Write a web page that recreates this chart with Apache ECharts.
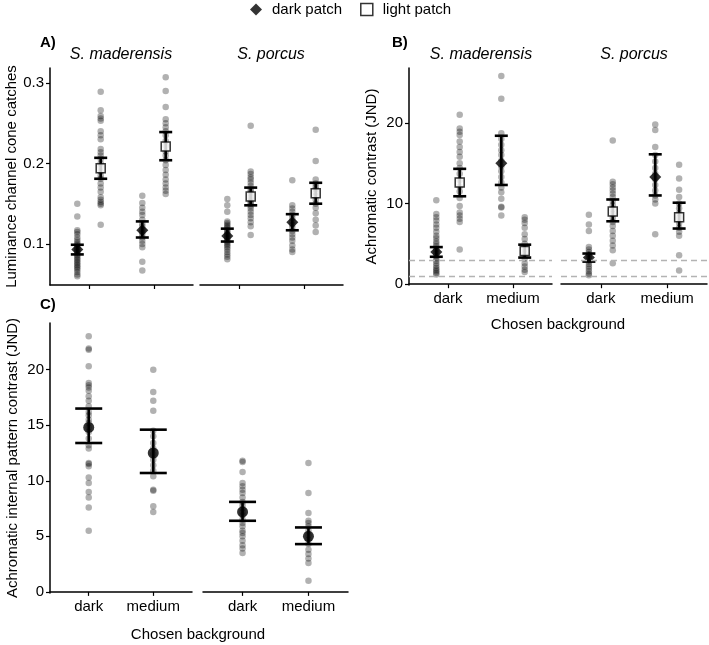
<!DOCTYPE html>
<html>
<head>
<meta charset="utf-8">
<script src="https://cdn.jsdelivr.net/npm/echarts@6/dist/echarts.min.js"></script>
<style>
  html, body { margin: 0; padding: 0; background: #fff; }
  #chart { width: 709px; height: 645px; }
</style>
</head>
<body>
<div id="chart"></div>
<script>
// categories
const bgLevels = ['dark', 'medium']
const speciesNames = ['S. maderensis', 'S. porcus']
const patchNames = ['dark patch', 'light patch']

// A) luminance channel cone catches, individual fish
const lumMadDarkDP = [0.150, 0.134, 0.117, 0.115, 0.112, 0.108, 0.105, 0.102, 0.100, 0.098, 0.096, 0.094, 0.092, 0.090, 0.088, 0.086, 0.084, 0.082, 0.080, 0.078, 0.076, 0.074, 0.072, 0.070, 0.068, 0.065, 0.062, 0.060]
const lumMadDarkLP = [0.289, 0.266, 0.259, 0.256, 0.253, 0.240, 0.235, 0.230, 0.218, 0.214, 0.210, 0.206, 0.200, 0.196, 0.190, 0.185, 0.181, 0.175, 0.170, 0.165, 0.158, 0.155, 0.152, 0.150, 0.148, 0.124]
const lumMadMedDP = [0.160, 0.151, 0.145, 0.140, 0.136, 0.130, 0.125, 0.122, 0.118, 0.115, 0.112, 0.108, 0.104, 0.100, 0.096, 0.078, 0.067]
const lumMadMedLP = [0.307, 0.290, 0.270, 0.255, 0.250, 0.245, 0.240, 0.235, 0.228, 0.222, 0.215, 0.210, 0.204, 0.198, 0.192, 0.186, 0.180, 0.175, 0.170, 0.166, 0.162]
const lumPorDarkDP = [0.156, 0.148, 0.140, 0.128, 0.126, 0.124, 0.122, 0.120, 0.118, 0.116, 0.114, 0.112, 0.110, 0.108, 0.106, 0.104, 0.102, 0.100, 0.098, 0.096, 0.093, 0.090, 0.087, 0.084, 0.081]
const lumPorDarkLP = [0.247, 0.190, 0.187, 0.183, 0.180, 0.176, 0.172, 0.168, 0.165, 0.162, 0.158, 0.155, 0.152, 0.150, 0.147, 0.144, 0.140, 0.136, 0.132, 0.127, 0.122, 0.111]
const lumPorMedDP = [0.179, 0.148, 0.144, 0.140, 0.136, 0.132, 0.128, 0.124, 0.120, 0.116, 0.112, 0.108, 0.104, 0.098, 0.093, 0.090]
const lumPorMedLP = [0.242, 0.203, 0.180, 0.175, 0.171, 0.168, 0.164, 0.160, 0.155, 0.150, 0.145, 0.138, 0.130, 0.123, 0.115]
// [mean, lower, upper] for darkBg-darkPatch, darkBg-lightPatch, mediumBg-darkPatch, mediumBg-lightPatch
const lumMadStats = [[0.093, 0.087, 0.099], [0.194, 0.181, 0.207], [0.117, 0.108, 0.128], [0.221, 0.204, 0.239]]
const lumPorStats = [[0.110, 0.103, 0.119], [0.159, 0.148, 0.170], [0.127, 0.117, 0.137], [0.163, 0.150, 0.176]]

// B) achromatic contrast (JND)
const achMadDarkDP = [10.4, 8.7, 8.3, 7.9, 7.4, 7.0, 6.5, 6.0, 5.7, 5.3, 5.0, 4.7, 4.4, 4.1, 3.8, 3.5, 3.2, 2.9, 2.6, 2.3, 2.0, 1.8, 1.6, 1.4, 1.2]
const achMadDarkLP = [21.0, 19.3, 18.9, 18.5, 17.7, 17.0, 16.4, 15.8, 15.0, 14.4, 13.7, 12.9, 12.1, 11.5, 10.7, 9.7, 8.9, 8.5, 8.1, 7.7, 4.3]
const achMadMedDP = [25.8, 23.0, 18.7, 18.0, 17.3, 16.6, 16.0, 15.3, 14.6, 14.0, 13.3, 12.6, 12.0, 11.4, 10.6, 9.6, 9.5, 8.5]
const achMadMedLP = [8.3, 8.0, 7.6, 7.0, 6.2, 5.6, 5.0, 4.4, 3.8, 3.2, 2.6, 2.2, 1.8, 1.5]
const achPorDarkDP = [8.6, 7.4, 6.6, 4.6, 4.3, 4.0, 3.7, 3.4, 3.1, 2.8, 2.5, 2.2, 1.9, 1.6, 1.3, 1.1]
const achPorDarkLP = [17.8, 12.7, 12.4, 12.0, 11.6, 11.2, 10.8, 10.3, 9.8, 9.3, 8.7, 8.2, 7.7, 7.2, 6.6, 6.0, 5.4, 4.8, 4.2, 2.6]
const achPorMedDP = [19.8, 19.1, 17.0, 16.0, 15.2, 14.4, 13.7, 13.0, 12.3, 11.6, 11.0, 10.5, 10.0, 6.2]
const achPorMedLP = [14.8, 13.1, 11.7, 10.8, 10.0, 9.4, 8.8, 8.2, 7.6, 7.0, 6.5, 6.0, 3.6, 1.7]
const achMadStats = [[4.0, 3.4, 4.6], [12.6, 10.9, 14.3], [15.0, 12.3, 18.4], [4.1, 3.3, 4.9]]
const achPorStats = [[3.3, 2.8, 3.8], [9.0, 7.8, 10.5], [13.3, 11.0, 16.1], [8.3, 6.9, 10.1]]
const jndThresholds = [1, 3]

// C) achromatic internal pattern contrast (JND)
const patMadDark = [23.0, 21.9, 21.8, 20.3, 18.8, 18.6, 18.4, 18.1, 17.6, 17.2, 16.7, 16.2, 15.9, 15.5, 15.2, 14.8, 14.4, 13.8, 13.2, 12.9, 11.6, 11.5, 11.3, 10.3, 9.8, 9.0, 8.5, 7.6, 5.5]
const patMadMed = [20.0, 18.0, 17.2, 16.3, 14.5, 14.0, 13.4, 12.9, 12.4, 11.9, 11.4, 10.9, 10.4, 9.2, 9.1, 7.7, 7.2]
const patPorDark = [11.8, 11.7, 10.8, 9.8, 9.5, 9.2, 8.9, 8.5, 8.1, 7.8, 7.5, 7.2, 6.9, 6.5, 6.2, 5.9, 5.5, 5.3, 5.0, 4.6, 4.2, 3.9, 3.5]
const patPorMed = [11.6, 8.9, 7.1, 6.4, 6.2, 5.9, 5.5, 5.1, 4.7, 4.3, 3.8, 3.4, 3.0, 2.6, 1.0]
const patMadStats = [[14.8, 13.4, 16.5], [12.5, 10.7, 14.6]]
const patPorStats = [[7.2, 6.4, 8.1], [5.0, 4.3, 5.8]]

// tick labels
const lumTicks = [0.1, 0.2, 0.3]
const achTicks = [0, 10, 20]
const patTicks = [0, 5, 10, 15, 20]

const FONT = 'Liberation Sans, Arial, Helvetica, sans-serif'
const DODGE = 0.18

const myChart = echarts.init(document.getElementById('chart'))

const grids = [
  { left: 50, top: 68, width: 143, height: 217 },   // A maderensis
  { left: 200, top: 68, width: 143, height: 217 },  // A porcus
  { left: 409, top: 68, width: 143, height: 217 },  // B maderensis
  { left: 561, top: 68, width: 146, height: 217 },  // B porcus
  { left: 50, top: 323, width: 142, height: 270 },  // C maderensis
  { left: 203, top: 323, width: 145, height: 270 }  // C porcus
]

function xAxisFor(gi, showLabels) {
  return {
    type: 'value', gridIndex: gi, min: 0.4, max: 2.6,
    axisLine: { lineStyle: { color: '#000', width: 1.5 } },
    axisTick: { customValues: [1, 2], length: 4, lineStyle: { color: '#000', width: 1.2 } },
    axisLabel: {
      show: showLabels, customValues: [1, 2], margin: 6,
      color: '#000', fontSize: 15, fontFamily: FONT,
      formatter: v => bgLevels[Math.round(v) - 1]
    },
    splitLine: { show: false }
  }
}

function yAxisFor(gi, min, max, ticks, name, visible) {
  if (!visible) {
    return { type: 'value', gridIndex: gi, min: min, max: max, show: false }
  }
  return {
    type: 'value', gridIndex: gi, min: min, max: max,
    name: name, nameLocation: 'middle', nameGap: 30,
    nameTextStyle: { color: '#000', fontSize: 15, fontFamily: FONT },
    axisLine: { show: true, lineStyle: { color: '#000', width: 1.5 } },
    axisTick: { show: true, customValues: ticks, length: 4, lineStyle: { color: '#000', width: 1.2 } },
    axisLabel: { customValues: ticks, margin: 6, color: '#000', fontSize: 15, fontFamily: FONT },
    splitLine: { show: false }
  }
}

function dotSeries(gi, xs, groups) {
  const data = []
  groups.forEach((g, k) => g.forEach(v => data.push([xs[k], v])))
  return {
    type: 'scatter', xAxisIndex: gi, yAxisIndex: gi, z: 2,
    symbol: 'circle', symbolSize: 6.5,
    itemStyle: { color: 'rgba(0,0,0,0.38)' },
    data: data
  }
}

function errorBars(gi, xs, stats, cap) {
  return {
    type: 'custom', xAxisIndex: gi, yAxisIndex: gi, z: 3,
    data: stats.map((s, k) => [xs[k], s[1], s[2]]),
    renderItem: (params, api) => {
      const lo = api.coord([api.value(0), api.value(1)])
      const hi = api.coord([api.value(0), api.value(2)])
      const w = cap / 2
      const style = { stroke: '#000', lineWidth: 2.6 }
      return {
        type: 'group',
        children: [
          { type: 'line', shape: { x1: lo[0], y1: lo[1], x2: hi[0], y2: hi[1] }, style: style },
          { type: 'line', shape: { x1: lo[0] - w, y1: lo[1], x2: lo[0] + w, y2: lo[1] }, style: style },
          { type: 'line', shape: { x1: hi[0] - w, y1: hi[1], x2: hi[0] + w, y2: hi[1] }, style: style }
        ]
      }
    }
  }
}

// panels A and B: two patches per background
function patchFacet(gi, groups, stats, thresholds) {
  const xs = [1 - DODGE, 1 + DODGE, 2 - DODGE, 2 + DODGE]
  const dots = dotSeries(gi, xs, groups)
  if (thresholds) {
    dots.markLine = {
      silent: true, symbol: 'none', animation: false,
      label: { show: false },
      lineStyle: { color: '#b3b3b3', type: [6, 4], width: 1.3 },
      data: thresholds.map(t => ({ yAxis: t }))
    }
  }
  return [
    dots,
    errorBars(gi, xs, stats, 13),
    {
      name: patchNames[0], type: 'scatter', xAxisIndex: gi, yAxisIndex: gi, z: 4,
      symbol: 'diamond', symbolSize: 12, itemStyle: { color: '#000' },
      data: [0, 2].map(k => [xs[k], stats[k][0]])
    },
    {
      name: patchNames[1], type: 'scatter', xAxisIndex: gi, yAxisIndex: gi, z: 4,
      symbol: 'rect', symbolSize: 9,
      itemStyle: { color: '#fff', borderColor: '#000', borderWidth: 1.5 },
      data: [1, 3].map(k => [xs[k], stats[k][0]])
    }
  ]
}

// panel C: one mean per background
function patternFacet(gi, groups, stats) {
  const xs = [1, 2]
  return [
    dotSeries(gi, xs, groups),
    errorBars(gi, xs, stats, 27),
    {
      type: 'scatter', xAxisIndex: gi, yAxisIndex: gi, z: 4,
      symbol: 'circle', symbolSize: 11, itemStyle: { color: '#000' },
      data: stats.map((s, k) => [xs[k], s[0]])
    }
  ]
}

function label(text, x, y, font, align) {
  return {
    type: 'text', x: x, y: y,
    style: { text: text, font: font, fill: '#000', textAlign: align || 'center', textVerticalAlign: 'middle' }
  }
}

const option = {
  animation: false,
  backgroundColor: '#fff',
  legend: {
    left: 250, top: 2, padding: 0, itemWidth: 12, itemHeight: 12, itemGap: 18,
    textStyle: { color: '#000', fontSize: 15, fontFamily: FONT, padding: [0, 0, 0, 5] },
    data: [
      { name: patchNames[0], icon: 'diamond', itemStyle: { color: '#000' } },
      { name: patchNames[1], icon: 'rect', itemStyle: { color: '#fff', borderColor: '#000', borderWidth: 1.5 } }
    ],
    selectedMode: false
  },
  grid: grids,
  xAxis: [
    xAxisFor(0, false), xAxisFor(1, false),
    xAxisFor(2, true), xAxisFor(3, true),
    xAxisFor(4, true), xAxisFor(5, true)
  ],
  yAxis: [
    yAxisFor(0, 0.049, 0.3186, lumTicks, 'Luminance channel cone catches', true),
    yAxisFor(1, 0.049, 0.3186, lumTicks, '', false),
    yAxisFor(2, -0.1, 26.8, achTicks, 'Achromatic contrast (JND)', true),
    yAxisFor(3, -0.1, 26.8, achTicks, '', false),
    yAxisFor(4, -0.1, 24.2, patTicks, 'Achromatic internal pattern contrast (JND)', true),
    yAxisFor(5, -0.1, 24.2, patTicks, '', false)
  ],
  series: [].concat(
    patchFacet(0, [lumMadDarkDP, lumMadDarkLP, lumMadMedDP, lumMadMedLP], lumMadStats),
    patchFacet(1, [lumPorDarkDP, lumPorDarkLP, lumPorMedDP, lumPorMedLP], lumPorStats),
    patchFacet(2, [achMadDarkDP, achMadDarkLP, achMadMedDP, achMadMedLP], achMadStats, jndThresholds),
    patchFacet(3, [achPorDarkDP, achPorDarkLP, achPorMedDP, achPorMedLP], achPorStats, jndThresholds),
    patternFacet(4, [patMadDark, patMadMed], patMadStats),
    patternFacet(5, [patPorDark, patPorMed], patPorStats)
  ),
  graphic: [
    label('A)', 40, 43, 'bold 15px ' + FONT, 'left'),
    label('B)', 392, 43, 'bold 15px ' + FONT, 'left'),
    label('C)', 40, 305, 'bold 15px ' + FONT, 'left'),
    label(speciesNames[0], 121, 55, 'italic 16px ' + FONT),
    label(speciesNames[1], 271, 55, 'italic 16px ' + FONT),
    label(speciesNames[0], 481, 55, 'italic 16px ' + FONT),
    label(speciesNames[1], 634, 55, 'italic 16px ' + FONT),
    label('Chosen background', 558, 325, '15px ' + FONT),
    label('Chosen background', 198, 635, '15px ' + FONT)
  ]
}

myChart.setOption(option)
window.addEventListener('resize', () => {
  if (myChart) {
    myChart.resize()
  }
})
</script>
</body>
</html>
